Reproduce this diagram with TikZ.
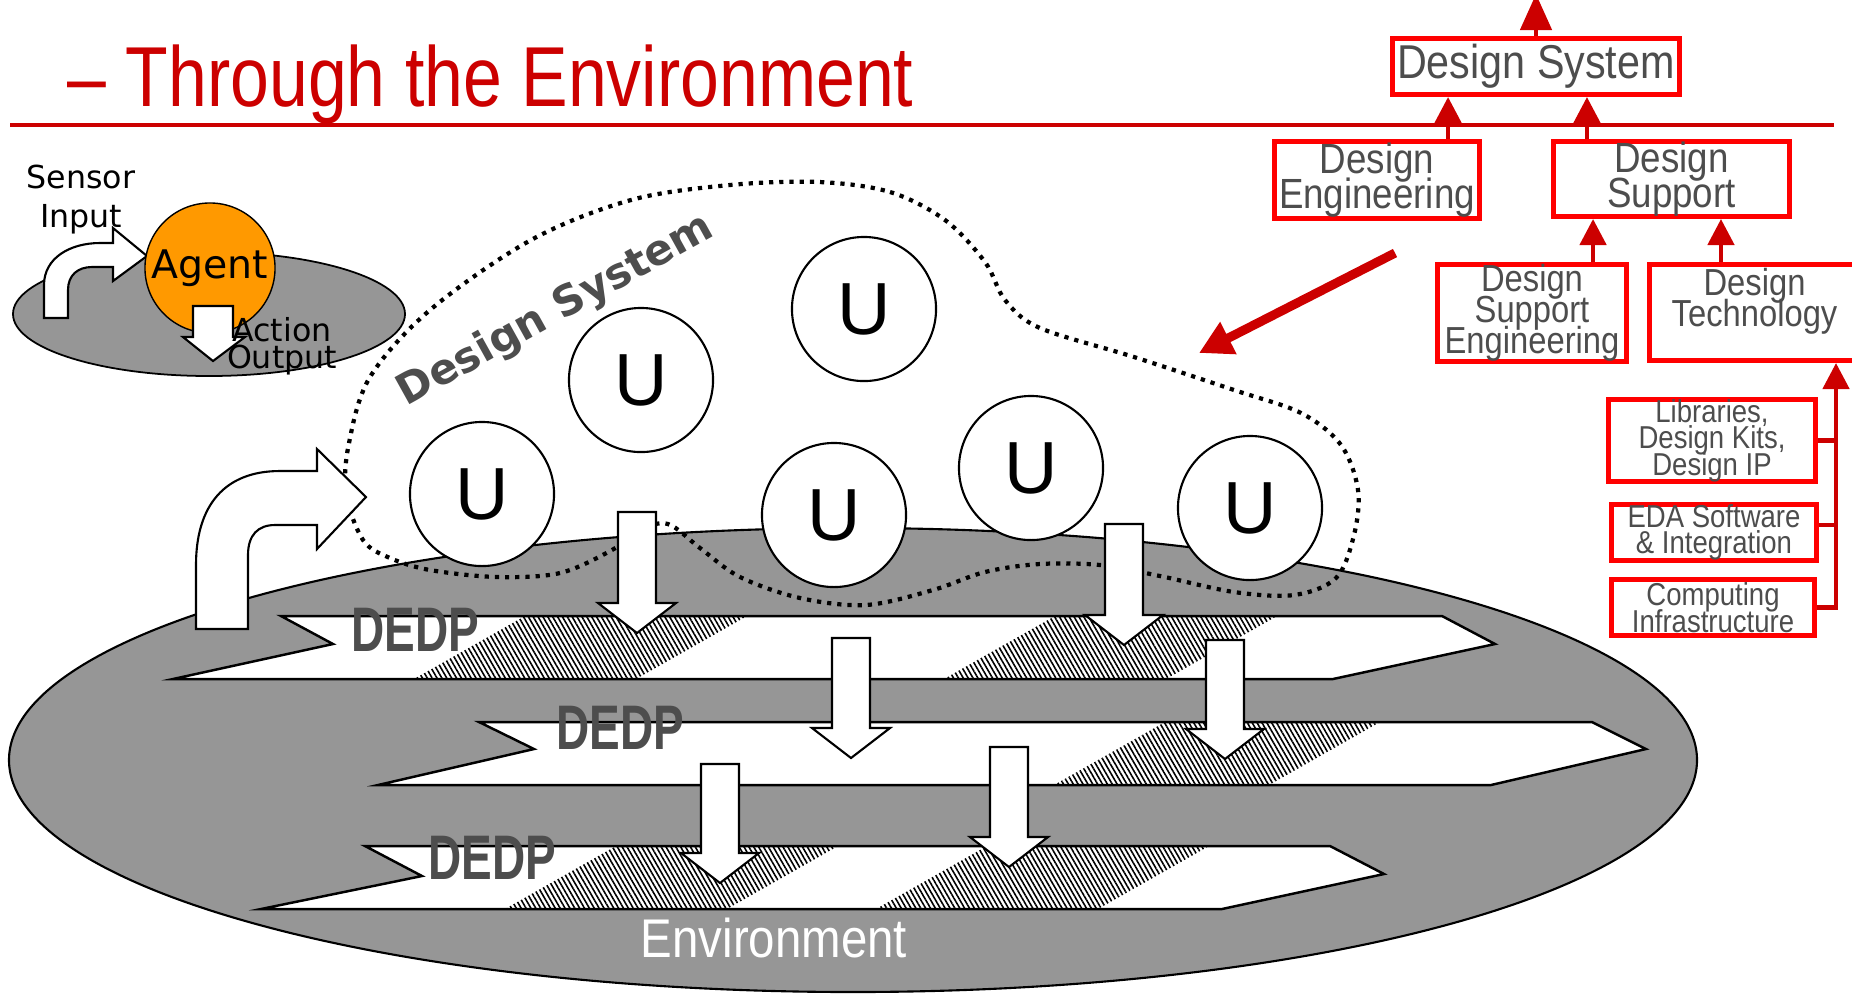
\documentclass[tikz,border=0pt]{standalone}
\usepackage{fontspec}
\setmainfont{Liberation Sans}
\newfontfamily\titlefont[FakeStretch=0.82]{Liberation Sans}
\newfontfamily\narrowfont[FakeStretch=0.87]{Liberation Sans}
\newfontfamily\dedpfont[FakeStretch=0.73]{Liberation Sans}
\newfontfamily\agentfont{DejaVu Sans}
\usetikzlibrary{arrows.meta,patterns.meta}
\lineskiplimit=-20pt

\definecolor{titlered}{RGB}{204,0,0}
\definecolor{boxred}{RGB}{255,0,0}
\definecolor{envgray}{RGB}{150,150,150}
\definecolor{textgray}{RGB}{77,77,77}
\definecolor{agentorange}{RGB}{255,153,0}

\begin{document}
\begin{tikzpicture}[x=0.01cm,y=-0.01cm,
    redbox/.style={draw=boxred,line width=1.4pt,fill=white,text=textgray,inner sep=0pt,align=center},
    redarrow/.style={draw=titlered,line width=1.3pt,-{Triangle[width=0.26cm,length=0.26cm]}},
    redline/.style={draw=titlered,line width=1.3pt},
    unode/.style={draw,circle,fill=white,line width=0.6pt,minimum size=1.44cm,inner sep=0pt,font=\fontsize{21}{21}\selectfont},
    band/.style={draw,fill=white,line width=0.7pt},
    hatch/.style={pattern={Lines[angle=120,distance=1.2pt,line width=0.45pt]}},
    blockarrow/.style={draw,fill=white,line width=0.6pt},
    dedp/.style={anchor=base west,inner sep=0pt,text=textgray,font=\dedpfont\bfseries\fontsize{17.9}{18}\selectfont},
    blobline/.style={line width=1.2pt,dash pattern=on 1.2pt off 1.7pt}]

  \useasboundingbox (0,0) rectangle (1852,993);
  \clip (0,0) rectangle (1852,993);

  %%%% Title and rule %%%%
  \node[anchor=base west,inner sep=0pt,text=titlered,font=\titlefont\fontsize{24.2}{24}\selectfont] (title) at (67,106) {– Through the Environment};
  \draw[titlered,line width=1pt] (10,125) -- (1834,125);

  %%%% Environment with the DEDP bands %%%%
  \draw[fill=envgray,line width=0.6pt] (853,760) ellipse [x radius=844,y radius=232];

  \draw[band] (281,616) -- (333,644) -- (173,679) -- (1333,679) -- (1495,644) -- (1442,616) -- cycle;
  \draw[band] (479,722) -- (534,749) -- (378,785) -- (1491,785) -- (1646,749) -- (1592,722) -- cycle;
  \draw[band] (365,846) -- (422,876) -- (261,909) -- (1222,909) -- (1384,874) -- (1330,846) -- cycle;

  %% hatched parts of the bands
  \foreach \hatchx/\hatchtop/\hatchbot/\hatchw in {414/616/679/222, 944/616/679/222, 1054/722/785/215, 505/846/909/222, 876/846/909/222}{
    \fill[hatch] (\hatchx,\hatchbot) -- (\hatchx+111,\hatchtop) -- (\hatchx+111+\hatchw,\hatchtop) -- (\hatchx+\hatchw,\hatchbot) -- cycle;
  }

  \node[dedp] (dedp1) at (351,651) {DEDP};
  \node[dedp] (dedp2) at (556,749) {DEDP};
  \node[dedp] (dedp3) at (428,879) {DEDP};
  \node[anchor=base,inner sep=0pt,text=white,font=\narrowfont\fontsize{15.5}{16}\selectfont] (envlabel) at (774,957) {Environment};

  %%%% Design system outline %%%%
  \draw[blobline] plot[smooth cycle,tension=0.55] coordinates {
    (819,182) (890,192) (945,220) (985,262) (1005,300) (1040,328) (1134,357)
    (1234,390) (1301,413) (1341,445) (1358,490) (1354,535) (1336,578) (1294,595)
    (1234,592) (1160,576) (1100,565) (1040,564) (985,572) (933,590) (866,605)
    (800,598) (740,577) (700,548) (668,524) (640,530) (612,550) (560,573)
    (497,577) (430,570) (390,558) (363,540) (346,493) (349,443) (370,377)
    (430,310) (531,240) (631,200) (730,185)};
  \node[rotate=29,text=textgray,font=\agentfont\bfseries\fontsize{12}{13}\selectfont] (dslabel) at (556,311) {Design System};

  %% the users
  \foreach \n/\ux/\uy in {1/482/494, 2/641/380, 3/864/309, 4/834/515, 5/1031/468, 6/1250/508}{
    \node[unode] (u\n) at (\ux,\uy) {U};
  }

  %% block arrows down into the bands
  \foreach \arrx/\arrtop/\arrtip in {637/512/633, 1124/524/645, 851/638/758, 1225/640/759, 720/764/883, 1009/747/867}{
    \draw[blockarrow] (\arrx-19,\arrtop) -- (\arrx+19,\arrtop) -- (\arrx+19,\arrtip-30) -- (\arrx+39,\arrtip-30)
      -- (\arrx,\arrtip) -- (\arrx-39,\arrtip-30) -- (\arrx-19,\arrtip-30) -- cycle;
  }

  %% sensor arrow from the environment
  \draw[blockarrow] (196,629) -- (196,565) .. controls (196,505) and (225,471) .. (280,471) -- (317,471) -- (317,449)
    -- (366,497) -- (317,549) -- (317,525) -- (275,525) .. controls (258,525) and (248,535) .. (248,555) -- (248,629) -- cycle;

  %%%% Agent sketch %%%%
  \draw[fill=envgray,line width=0.5pt] (209,314) ellipse [x radius=196,y radius=62];
  \draw[blockarrow] (44,318) -- (44,285) .. controls (44,258) and (70,243) .. (100,243) -- (113,243) -- (113,228)
    -- (147,256) -- (113,281) -- (113,267) -- (92,267) .. controls (78,267) and (68,275) .. (68,290) -- (68,318) -- cycle;
  \node[circle,draw,fill=agentorange,minimum size=1.30cm,inner sep=0pt,font=\agentfont\fontsize{11.2}{12}\selectfont] (agent) at (210,268) {Agent};
  \draw[blockarrow] (193,306) -- (233,306) -- (233,337) -- (245,337) -- (213,361) -- (183,337) -- (193,337) -- cycle;
  \node[align=center,inner sep=0pt,font=\agentfont\fontsize{9}{11.1}\selectfont] (sensor) at (81,200) {Sensor\\Input};
  \node[align=center,inner sep=0pt,font=\agentfont\fontsize{9}{7.6}\selectfont] (action) at (282,346) {Action\\Output};

  %%%% Design system breakdown %%%%
  \node[redbox,minimum width=2.87cm,minimum height=0.56cm,font=\narrowfont\fontsize{13.5}{13}\selectfont] (dsys) at (1536,66.5) {Design System};
  \node[redbox,minimum width=2.05cm,minimum height=0.77cm,font=\narrowfont\fontsize{12}{9.96}\selectfont] (deng) at (1377,180) {Design\\Engineering};
  \node[redbox,minimum width=2.36cm,minimum height=0.75cm,font=\narrowfont\fontsize{12}{9.96}\selectfont] (dsupp) at (1671.5,179) {Design\\Support};
  \node[redbox,minimum width=1.89cm,minimum height=0.97cm,font=\narrowfont\fontsize{10.7}{8.8}\selectfont] (dseng) at (1532,313) {Design\\Support\\Engineering};
  \node[redbox,minimum width=2.10cm,minimum height=0.96cm,font=\narrowfont\fontsize{10.7}{8.8}\selectfont] (dtech) at (1754.5,312.5) {Design\\Technology\\~};
  \node[redbox,minimum width=2.07cm,minimum height=0.82cm,font=\narrowfont\fontsize{9}{7.5}\selectfont] (libs) at (1712,440.5) {Libraries,\\Design Kits,\\Design IP};
  \node[redbox,minimum width=2.05cm,minimum height=0.56cm,font=\narrowfont\fontsize{9}{7.5}\selectfont] (eda) at (1714,532.5) {EDA Software\\\& Integration};
  \node[redbox,minimum width=2.03cm,minimum height=0.56cm,font=\narrowfont\fontsize{9}{7.5}\selectfont] (comp) at (1713,607.5) {Computing\\Infrastructure};

  %% arrows up the tree
  \coordinate (systop) at (1536,-6);
  \draw[redarrow,-{Triangle[width=0.31cm,length=0.36cm]}] (dsys.north) -- (systop);
  \draw[redarrow] ([xshift=0.71cm]deng.north) -- ([xshift=0.71cm]deng.north |- dsys.south);
  \draw[redarrow] ([xshift=-0.845cm]dsupp.north) -- ([xshift=-0.845cm]dsupp.north |- dsys.south);
  \draw[redarrow] ([xshift=0.61cm]dseng.north) -- ([xshift=0.61cm]dseng.north |- dsupp.south);
  \draw[redarrow] ([xshift=-0.335cm]dtech.north) -- ([xshift=-0.335cm]dtech.north |- dsupp.south);

  %% bus from the technology boxes
  \coordinate (bus) at (1836,0);
  \draw[redarrow] (comp.east) -| (bus |- dtech.south);
  \draw[redline] (libs.east) -- (libs.east -| bus);
  \draw[redline] ([yshift=0.075cm]eda.east) -- ([yshift=0.075cm]eda.east -| bus);

  %% pointer onto the design system
  \coordinate (ptrstart) at (1395,253);
  \coordinate (ptrend) at (1199,353);
  \draw[titlered,line width=2.6pt,-{Triangle[width=0.34cm,length=0.33cm]}] (ptrstart) -- (ptrend);

\end{tikzpicture}
\end{document}
